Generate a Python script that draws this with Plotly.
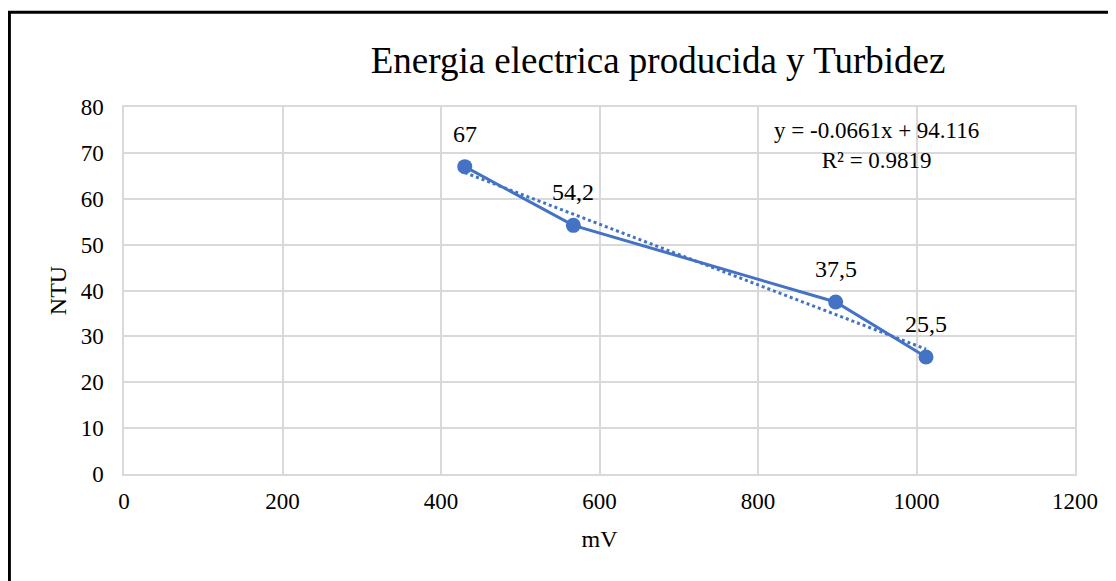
import plotly.graph_objects as go

mv = [430, 567, 898, 1012]
ntu = [67, 54.2, 37.5, 25.5]
point_labels = ["67", "54,2", "37,5", "25,5"]
slope, intercept, r2 = -0.0661, 94.116, 0.9819

BLUE = "#4472c4"
FONT = "Liberation Serif, Times New Roman, serif"

fig = go.Figure()
trend_x = [min(mv), max(mv)]
fig.add_scatter(x=trend_x, y=[slope * v + intercept for v in trend_x], mode="lines",
                line={"color": BLUE, "width": 3, "dash": "dot"}, showlegend=False, hoverinfo="skip")
fig.add_scatter(x=mv, y=ntu, mode="lines+markers",
                line={"color": BLUE, "width": 3}, marker={"color": BLUE, "size": 15}, showlegend=False)

# data labels sit a little higher than plotly's "top center" text
for x, y, label in zip(mv, ntu, point_labels):
    fig.add_annotation(x=x, y=y, text=label, showarrow=False, yanchor="bottom", yshift=18,
                       font={"size": 24, "color": "#000000", "family": FONT})

fig.add_annotation(x=0.791, y=0.896, xref="paper", yref="paper", showarrow=False,
                   xanchor="center", yanchor="middle",
                   text=f"y = {slope}x + {intercept}<br>R² = {r2}", align="center",
                   font={"size": 23, "color": "#000000", "family": FONT})

# outer chart border (reaches past the right and bottom edges)
fig.add_shape(type="rect", xref="paper", yref="paper", x0=-0.1205, x1=1.09, y0=-0.33, y1=1.258,
              line={"color": "#000000", "width": 3})

fig.update_xaxes(range=[0, 1200], dtick=200, showgrid=True, gridcolor="#d9d9d9", gridwidth=1.5,
                 showline=True, linecolor="#d9d9d9", linewidth=1.5, mirror=True, zeroline=False,
                 tickfont={"size": 23, "family": FONT, "color": "#000000"}, ticks="", ticklabelstandoff=6,
                 title={"text": "mV", "font": {"size": 24, "family": FONT, "color": "#000000"}, "standoff": 17})
fig.update_yaxes(range=[0, 80], dtick=10, showgrid=True, gridcolor="#d9d9d9", gridwidth=1.5,
                 showline=True, linecolor="#d9d9d9", linewidth=1.5, mirror=True, zeroline=False,
                 tickfont={"size": 23, "family": FONT, "color": "#000000"}, ticks="", ticklabelstandoff=14,
                 title={"text": "NTU", "font": {"size": 24, "family": FONT, "color": "#000000"}, "standoff": 7})
fig.update_layout(
    width=1116, height=581, template="plotly_white", plot_bgcolor="white", paper_bgcolor="white",
    margin={"l": 116, "r": 49, "t": 99, "b": 115},
    title={"text": "Energia electrica producida y Turbidez", "x": 0.5825, "xanchor": "center",
           "y": 0.9105, "yanchor": "middle", "font": {"size": 37, "family": FONT, "color": "#000000"}},
)
fig.write_html("out.html")
